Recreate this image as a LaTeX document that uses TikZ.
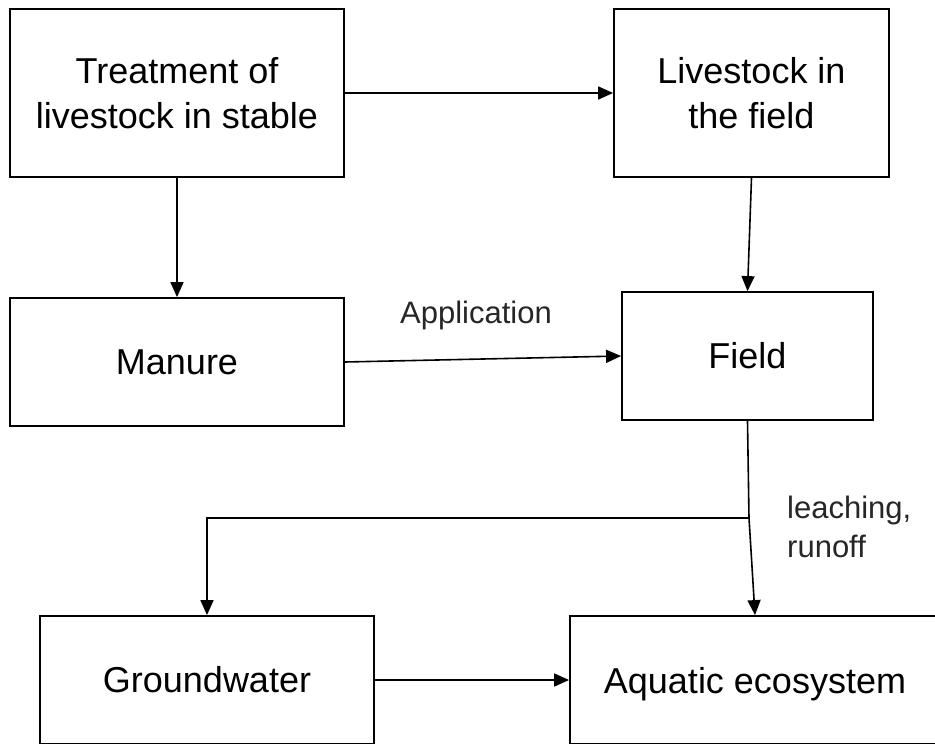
\documentclass[tikz,border=0pt]{standalone}
\usepackage{fontspec}
\setmainfont{Liberation Sans}
\usetikzlibrary{arrows.meta}
\begin{document}
\begin{tikzpicture}[x=1pt,y=-1pt,
  box/.style={draw=black, line width=1.8pt, fill=white, inner sep=0pt, align=center,
    font=\fontsize{36}{45}\selectfont},
  conn/.style={line width=1.6pt, -{Triangle[length=15pt,width=13pt]}},
  lbl/.style={inner sep=0pt, font=\fontsize{31}{39}\selectfont, text=black!85}]
\useasboundingbox (0,0) rectangle (935,744);
\node[box, minimum width=334pt, minimum height=168pt] (treat) at (177,93) {Treatment of\\livestock in stable};
\node[box, minimum width=275pt, minimum height=168pt] (live) at (751.5,93) {Livestock in\\the field};
\node[box, minimum width=334pt, minimum height=128pt] (man) at (177,362) {Manure};
\node[box, minimum width=251pt, minimum height=128pt] (field) at (747.5,356) {Field};
\node[box, minimum width=334pt, minimum height=128pt] (gw) at (207,680) {Groundwater};
\node[box, minimum width=370pt, minimum height=128pt, text depth=0pt] (aq) at (755,680) {Aquatic ecosystem};
\coordinate (j) at (749,518);
\draw[conn] (treat.east) -- (live.west);
\draw[conn] (treat.south) -- (man.north);
\draw[conn] (live.south) -- (field.north);
\draw[conn] (man.east) -- (field.west);
\draw[line width=1.6pt] (field.south) -- (j);
\draw[conn] (j) -- (aq.north);
\draw[conn] (j) -| (gw.north);
\draw[conn] (gw.east) -- (aq.west);
\node[lbl, anchor=base west] (app) at (400,323) {Application};
\node[lbl, anchor=north west, align=left] (leach) at (787,495.5) {leaching,\\runoff};
\end{tikzpicture}
\end{document}
